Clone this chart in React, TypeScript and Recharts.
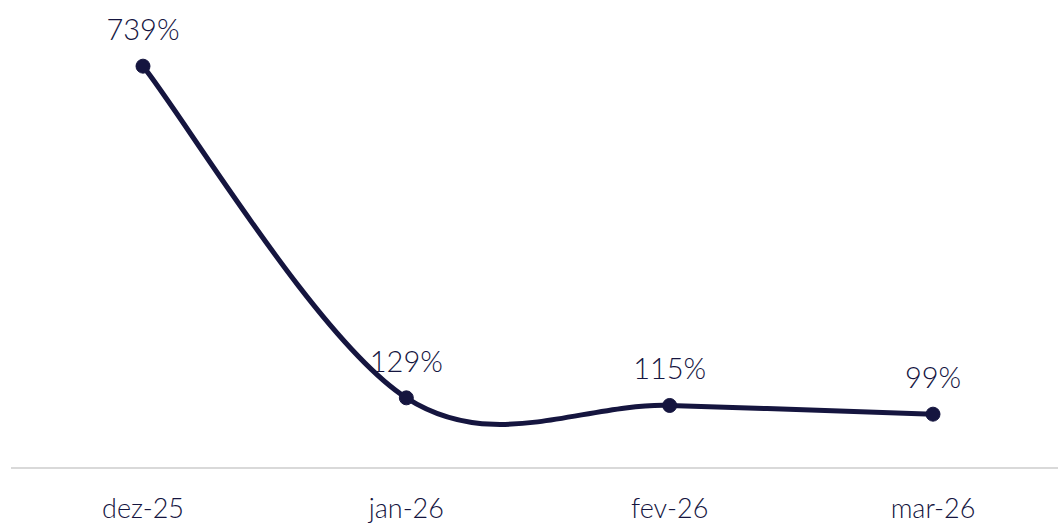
import React from 'react'
import { LineChart, Line, XAxis, YAxis, LabelList } from 'recharts'

const months = ['dez-25', 'jan-26', 'fev-26', 'mar-26']
const ratio = [739, 129, 115, 99]

const data = months.map((m, i) => ({ month: m, ratio: ratio[i] }))

const NAVY = '#15153f'
const FONT = 'Lato, "Open Sans", sans-serif'

// Excel-like smoothed line: Catmull-Rom converted to cubic Béziers (1/6 rule)
const excelCurve = (context: any) => {
  let pts: number[][] = []
  return {
    areaStart() {},
    areaEnd() {},
    lineStart() {
      pts = []
    },
    point(x: number, y: number) {
      pts.push([+x, +y])
    },
    lineEnd() {
      if (!pts.length) return
      context.moveTo(pts[0][0], pts[0][1])
      for (let i = 0; i < pts.length - 1; i++) {
        const p0 = pts[Math.max(i - 1, 0)]
        const p1 = pts[i]
        const p2 = pts[i + 1]
        const p3 = pts[Math.min(i + 2, pts.length - 1)]
        const c1x = p1[0] + (p2[0] - p0[0]) / 6
        const c1y = p1[1] + (p2[1] - p0[1]) / 6
        const c2x = p2[0] - (p3[0] - p1[0]) / 6
        const c2y = p2[1] - (p3[1] - p1[1]) / 6
        context.bezierCurveTo(c1x, c1y, c2x, c2y, p2[0], p2[1])
      }
    },
  }
}

export default function App() {
  return (
    <div
      style={{
        position: 'absolute',
        left: 0,
        top: 0,
        width: 1058,
        height: 524,
        overflow: 'hidden',
        background: '#fff',
      }}
    >
      <LineChart
        width={1070}
        height={524}
        data={data}
        margin={{ top: 33, right: 5, bottom: 0, left: 11 }}
      >
        <XAxis
          dataKey="month"
          height={56}
          padding={{ left: 132, right: 132 }}
          axisLine={{ stroke: '#d9d9d9', strokeWidth: 2 }}
          tickLine={false}
          tickSize={0}
          tickMargin={31}
          tick={{ fontSize: 27, fill: NAVY, fontFamily: FONT, fontWeight: 300 }}
        />
        <YAxis hide domain={[0, 800]} />
        <Line
          type={excelCurve as any}
          dataKey="ratio"
          stroke={NAVY}
          strokeWidth={5}
          dot={{ r: 7, fill: NAVY, stroke: NAVY, strokeWidth: 1 }}
          activeDot={false}
          isAnimationActive={false}
        >
          <LabelList
            dataKey="ratio"
            position="top"
            offset={26}
            formatter={(v: any) => `${v}%`}
            style={{ fontSize: 29, fill: NAVY, fontFamily: FONT, fontWeight: 300 }}
          />
        </Line>
      </LineChart>
    </div>
  )
}
